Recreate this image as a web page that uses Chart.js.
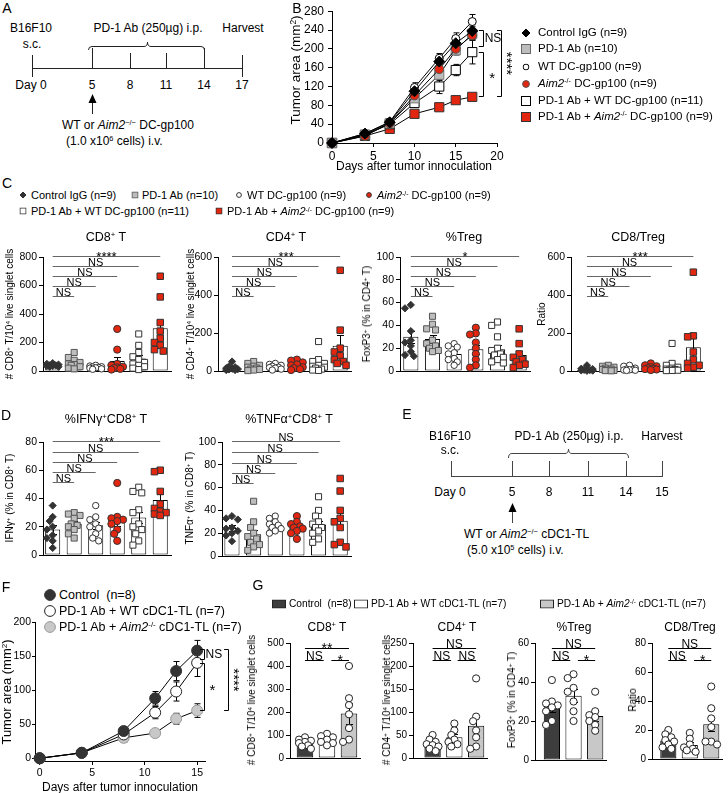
<!DOCTYPE html>
<html><head><meta charset="utf-8">
<script src="https://cdn.jsdelivr.net/npm/chart.js@4.4.1/dist/chart.umd.min.js"></script>
<style>
html,body{margin:0;padding:0;background:#fff}
body{position:relative;width:728px;height:793px;overflow:hidden;font-family:"Liberation Sans",Arial,Helvetica,sans-serif;color:#000}
.t{position:absolute;white-space:nowrap;line-height:1;z-index:2}
sup{font-size:62%;position:relative;top:-0.5em;vertical-align:baseline;line-height:0}
canvas{position:absolute;z-index:1}
svg.ov{position:absolute;left:0;top:0;z-index:0}
</style></head><body>
<svg class="ov" width="728" height="793">
 <g stroke="#222" fill="none" stroke-width="1">
  <line x1="32" y1="68.5" x2="243" y2="68.5"/>
  <line x1="32.5" y1="55" x2="32.5" y2="77"/>
  <line x1="92.5" y1="48" x2="92.5" y2="68"/>
  <line x1="130.5" y1="53" x2="130.5" y2="68"/>
  <line x1="166.5" y1="53" x2="166.5" y2="68"/>
  <line x1="204.5" y1="48" x2="204.5" y2="68"/>
  <line x1="242.5" y1="55" x2="242.5" y2="77"/>
  <path d="M88.5,50 Q88.5,46.5 92,46.5 L144,46.5 Q147.5,46.5 147.5,42 Q147.5,46.5 151,46.5 L201,46.5 Q204.5,46.5 204.5,50"/>
  <line x1="92.5" y1="114" x2="92.5" y2="101"/>
 </g>
 <polygon points="92.5,94 88.5,103 96.5,103" fill="#000"/>
 <g stroke="#444" fill="none" stroke-width="1">
  <line x1="451" y1="476.5" x2="663" y2="476.5"/>
  <line x1="451.5" y1="461" x2="451.5" y2="477"/>
  <line x1="512.5" y1="461" x2="512.5" y2="476"/>
  <line x1="549.5" y1="461" x2="549.5" y2="476"/>
  <line x1="588.5" y1="461" x2="588.5" y2="476"/>
  <line x1="626.5" y1="461" x2="626.5" y2="476"/>
  <line x1="662.5" y1="461" x2="662.5" y2="477"/>
  <path d="M508.5,458 Q508.5,453.5 512,453.5 L565,453.5 Q568.5,453.5 568.5,449 Q568.5,453.5 572,453.5 L625,453.5 Q628.5,453.5 628.5,458"/>
  <line x1="512.5" y1="523" x2="512.5" y2="510"/>
 </g>
 <polygon points="512.5,503 508.5,512 516.5,512" fill="#000"/>
</svg>
<script>
// ---------------- DATA ----------------
// Panel B : tumour growth
const daysB = [0, 4, 7, 10, 13, 15, 17];
const bCtrlIgG = [0, 20, 44, 110, 173, 212, 238];
const bCtrlIgGErr = [0, 2, 3, 8, 10, 12, 10];
const bPD1 = [0, 18, 42, 95, 145, 197, 232];
const bPD1Err = [0, 2, 3, 8, 12, 10, 12];
const bWT = [0, 20, 45, 118, 180, 222, 258];
const bWTErr = [0, 2, 3, 10, 10, 12, 15];
const bAim2 = [0, 15, 42, 101, 157, 200, 229];
const bAim2Err = [0, 2, 3, 8, 10, 10, 10];
const bPD1WT = [0, 17, 40, 85, 120, 155, 193];
const bPD1WTErr = [0, 2, 3, 8, 15, 12, 25];
const bPD1Aim2 = [0, 15, 30, 62, 76, 91, 98];
const bPD1Aim2Err = [0, 2, 2, 4, 4, 4, 5];
const groupsB = ['Control IgG (n=9)', 'PD-1 Ab (n=10)', 'WT DC-gp100 (n=9)', 'Aim2-/- DC-gp100 (n=9)', 'PD-1 Ab + WT DC-gp100 (n=11)', 'PD-1 Ab + Aim2-/- DC-gp100 (n=9)'];
const ticksB_x = [0, 5, 10, 15, 20];
const ticksB_y = [0, 40, 80, 120, 160, 200, 240, 280];

// Panel C : CD8+ T per 10^4 cells
const cd8Means = [40, 52, 25, 70, 87, 300];
const cd8Sem = [5, 12, 4, 30, 22, 60];
const cd8Pts = [[55, 50, 45, 40, 40, 35, 35, 30, 30], [130, 95, 75, 60, 50, 45, 40, 30, 20, 15], [40, 35, 30, 28, 25, 22, 20, 15, 12], [295, 150, 50, 40, 30, 25, 20, 15, 10], [260, 180, 130, 100, 80, 60, 50, 40, 30, 20, 10], [665, 520, 340, 280, 230, 200, 180, 150, 140]];
// CD4+ T
const cd4Means = [17, 20, 22, 30, 37, 133];
const cd4Sem = [5, 5, 4, 6, 13, 58];
const cd4Pts = [[50, 25, 20, 15, 12, 10, 8, 5, 5], [50, 40, 30, 25, 20, 15, 10, 8, 5, 2], [40, 35, 30, 25, 20, 18, 15, 10, 5], [60, 55, 45, 35, 30, 20, 15, 10, 5], [155, 60, 50, 40, 30, 25, 20, 15, 10, 5, 3], [530, 215, 120, 100, 80, 60, 50, 40, 30]];
// %Treg
const tregMeans = [30, 28, 15, 19, 19, 14];
const tregSem = [5.5, 3.5, 2.5, 4, 3.5, 3.5];
const tregPts = [[58, 55, 35, 27, 25, 22, 17, 14, 13], [48, 41, 37, 36, 27, 24, 22, 20, 18, 17], [24, 22, 21, 16, 15, 11, 10, 8, 5], [38, 33, 32, 25, 20, 15, 10, 5, 3], [43, 40, 30, 20, 18, 15, 14, 12, 10, 8, 7], [37, 24, 15, 12, 10, 8, 6, 5, 3]];
// CD8/Treg ratio
const ratioMeans = [8, 12, 12, 18, 24, 125];
const ratioSem = [3, 3, 3, 4, 12, 55];
const ratioPts = [[30, 12, 10, 8, 6, 5, 3, 2, 1], [30, 25, 20, 15, 10, 8, 5, 3, 2, 1], [30, 25, 15, 10, 8, 6, 5, 4, 3], [40, 30, 25, 20, 15, 12, 10, 8, 5], [145, 40, 30, 20, 15, 10, 8, 5, 4, 3, 2], [520, 185, 180, 100, 60, 40, 30, 20, 15]];

// Panel D
const ifnMeans = [18, 22, 21, 24, 26.5, 39];
const ifnSem = [3, 2, 2.5, 3.8, 4, 4];
const ifnPts = [[35, 27, 24, 20, 18, 14, 12, 10, 5], [30, 29, 28, 26, 22, 21, 20, 18, 15, 12], [35, 27, 25, 22, 20, 19, 15, 12, 10], [51, 27, 26, 25, 24, 22, 18, 15, 10], [48, 44, 45, 32, 30, 22, 20, 18, 15, 10, 7], [60, 59, 45, 36, 33, 31, 30, 29, 28]];
const tnfMeans = [24.5, 19, 27, 25, 27.6, 31];
const tnfSem = [2.3, 4, 1.6, 2, 3.5, 7];
const tnfPts = [[35, 33, 32, 25, 24, 22, 20, 18, 13], [48, 30, 25, 20, 17, 15, 12, 10, 8, 5], [35, 33, 30, 28, 27, 25, 24, 22, 20], [35, 30, 28, 26, 25, 24, 22, 20, 15], [52, 40, 35, 30, 28, 25, 25, 22, 20, 15, 12], [68, 57, 40, 33, 30, 25, 12, 10, 8]];

// Panel F
const daysF = [0, 4, 8, 11, 13, 15];
const fCtrl = [0, 8, 40, 88, 128, 158];
const fCtrlErr = [0, 1.5, 4, 10, 14, 15];
const fWT = [0, 8, 35, 67, 98, 140];
const fWTErr = [0, 1.5, 4, 9, 14, 20];
const fAim2 = [0, 8, 30, 37, 58, 70];
const fAim2Err = [0, 1.5, 6, 3, 8, 10];
const groupsF = ['Control  (n=8)', 'PD-1 Ab + WT cDC1-TL (n=7)', 'PD-1 Ab + Aim2-/- cDC1-TL (n=7)'];
const ticksF_x = [0, 5, 10, 15];
const ticksF_y = [0, 50, 100, 150, 200];

// Panel G
const gCd8Means = [65, 80, 194];
const gCd8Sem = [6, 7, 45];
const gCd8Pts = [[90, 80, 75, 70, 65, 55, 50, 40], [105, 95, 90, 80, 70, 65, 55], [400, 260, 230, 190, 130, 80, 70]];
const gCd4Means = [30, 45, 70];
const gCd4Sem = [4, 7, 20];
const gCd4Pts = [[50, 40, 35, 30, 28, 25, 20, 15], [75, 60, 50, 40, 35, 30, 25], [173, 90, 80, 60, 45, 25, 20]];
const gTregMeans = [27, 33, 22.6];
const gTregSem = [2.5, 3.5, 2.5];
const gTregPts = [[41, 30, 29, 28, 27, 25, 20, 18], [44, 42, 37, 35, 30, 25, 20], [35, 25, 23, 22, 20, 18, 15]];
const gRatioMeans = [12.8, 9.7, 24];
const gRatioSem = [1.6, 1.8, 5];
const gRatioPts = [[20, 17, 15, 13, 12, 10, 8, 7], [18, 14, 10, 8, 7, 6, 5], [50, 35, 28, 22, 12, 12, 10]];

// ---------------- RENDERING ----------------
const FONT = '"Liberation Sans", Arial, Helvetica, sans-serif';
Chart.defaults.font.family = FONT;
Chart.defaults.color = '#000';
Chart.defaults.animation = false;
Chart.defaults.plugins.legend.display = false;
Chart.defaults.plugins.tooltip.enabled = false;
const RED = '#e3260f';
const REG = new Map();

const annot = {
  id: 'annot',
  beforeDatasetsDraw(chart) {
    const e = REG.get(chart.canvas); if (!e || !e.lineErr) return;
    const {ctx} = chart, X = chart.scales.x, Y = chart.scales.y;
    ctx.save(); ctx.strokeStyle = '#000'; ctx.lineWidth = 1;
    e.lineErr.forEach(s => s.days.forEach((d, i) => {
      const er = s.err[i]; if (!er) return;
      const px = Math.round(X.getPixelForValue(d)) + 0.5;
      const p1 = Y.getPixelForValue(s.vals[i] + er), p2 = Y.getPixelForValue(s.vals[i] - er);
      ctx.beginPath(); ctx.moveTo(px, p1); ctx.lineTo(px, p2);
      ctx.moveTo(px - e.cap, p1); ctx.lineTo(px + e.cap, p1);
      ctx.moveTo(px - e.cap, p2); ctx.lineTo(px + e.cap, p2); ctx.stroke();
    }));
    ctx.restore();
  },
  afterDatasetDraw(chart, args) {
    const e = REG.get(chart.canvas); if (!e || !e.barErr || args.index !== 0) return;
    const {ctx} = chart, X = chart.scales.x, Y = chart.scales.y;
    ctx.save(); ctx.strokeStyle = '#000'; ctx.lineWidth = 1;
    e.barErr.means.forEach((m, i) => {
      const px = Math.round(X.getPixelForValue(i)) + 0.5;
      const p1 = Math.round(Y.getPixelForValue(m + e.barErr.sems[i])) + 0.5;
      const p2 = Math.round(Y.getPixelForValue(Math.max(0, m - e.barErr.sems[i]))) + 0.5;
      ctx.beginPath(); ctx.moveTo(px, p1); ctx.lineTo(px, p2);
      ctx.moveTo(px - e.cap, p1); ctx.lineTo(px + e.cap, p1);
      ctx.moveTo(px - e.cap, p2); ctx.lineTo(px + e.cap, p2); ctx.stroke();
    });
    ctx.restore();
  },
  afterDraw(chart) {
    const e = REG.get(chart.canvas); if (!e) return;
    const {ctx} = chart, X = chart.scales.x, Y = chart.scales.y;
    ctx.save();
    if (e.sig) e.sig.forEach(([a, b, v, txt]) => {
      const x1 = X.getPixelForValue(a), x2 = X.getPixelForValue(b), yy = Math.round(Y.getPixelForValue(v)) + 0.5;
      ctx.strokeStyle = e.sigColor; ctx.lineWidth = 1;
      ctx.beginPath(); ctx.moveTo(x1, yy); ctx.lineTo(x2, yy); ctx.stroke();
      const star = txt.includes('*');
      ctx.font = (star ? e.starSize : e.nsSize) + 'px ' + FONT;
      ctx.fillStyle = '#000'; ctx.textAlign = 'center'; ctx.textBaseline = 'alphabetic';
      ctx.fillText(txt, (x1 + x2) / 2, yy + (star ? e.starSize * 0.33 : -0.5));
    });
    if (e.br) e.br.forEach(o => {
      const x = Math.round(X.getPixelForValue(o.x)) + 0.5, xa = X.getPixelForValue(o.arm);
      const y1 = Math.round(Y.getPixelForValue(o.y1)) + 0.5, y2 = Math.round(Y.getPixelForValue(o.y2)) + 0.5;
      ctx.strokeStyle = '#000'; ctx.lineWidth = 1;
      ctx.beginPath(); ctx.moveTo(xa, y1); ctx.lineTo(x, y1); ctx.lineTo(x, y2); ctx.lineTo(xa, y2); ctx.stroke();
      const star = o.text.includes('*');
      ctx.fillStyle = '#000';
      ctx.font = (star ? 15 : 12) + 'px ' + FONT;
      const tx = X.getPixelForValue(o.tx), mid = (y1 + y2) / 2;
      if (o.rot) {
        ctx.translate(tx, mid); ctx.rotate(Math.PI / 2);
        ctx.textAlign = 'center'; ctx.textBaseline = 'middle';
        ctx.fillText(o.text, 0, 0);
        ctx.setTransform(chart.currentDevicePixelRatio, 0, 0, chart.currentDevicePixelRatio, 0, 0);
      } else {
        ctx.textAlign = o.ta || 'center'; ctx.textBaseline = 'middle';
        ctx.fillText(o.text, tx, mid + (star ? 4 : 0));
      }
    });
    ctx.restore();
  }
};
Chart.register(annot);

function canv(a, p) {
  const c = document.createElement('canvas');
  const w = a.r - a.l + p.l + p.r, h = a.b - a.t + p.t + p.b;
  c.width = w; c.height = h;
  c.style.left = (a.l - p.l) + 'px'; c.style.top = (a.t - p.t) + 'px';
  c.style.width = w + 'px'; c.style.height = h + 'px';
  document.body.appendChild(c);
  return c;
}
function yAxis(min, max, fs, list, pad, tl) {
  return {
    type: 'linear', min, max,
    ticks: {font: {size: fs}, color: '#000', padding: pad || 3},
    grid: {display: true, drawOnChartArea: false, drawTicks: true, tickLength: tl || 4, color: '#000', lineWidth: 1},
    border: {display: true, color: '#000', width: 1},
    afterBuildTicks: s => { s.ticks = list.map(v => ({value: v})); }
  };
}
function range(max, step) { const r = []; for (let v = 0; v <= max + 1e-9; v += step) r.push(+v.toFixed(6)); return r; }

// deterministic beeswarm layout: spreads coincident points sideways within the bar
function swarm(vals, pyu, pxu, r) {
  const order = vals.map((v, i) => i).sort((a, b) => vals[b] - vals[a]);
  const cand = [0, -0.14, 0.14, -0.27, 0.27];
  const placed = [], offs = new Array(vals.length).fill(0);
  order.forEach(i => {
    const yp = vals[i] * pyu;
    let best = 0, bestD = -1;
    for (const c of cand) {
      const xp = c * pxu;
      let dmin = Infinity;
      placed.forEach(p => { dmin = Math.min(dmin, Math.hypot(p.x - xp, p.y - yp)); });
      if (dmin >= 2 * r) { best = c; break; }
      if (dmin > bestD) { bestD = dmin; best = c; }
    }
    offs[i] = best; placed.push({x: best * pxu, y: yp});
  });
  return offs;
}

const styleC = [
  {pointStyle: 'rectRot', pointRadius: 3.6, backgroundColor: '#333', borderColor: '#333'},
  {pointStyle: 'rect', pointRadius: 4.3, backgroundColor: '#bdbdbd', borderColor: '#555'},
  {pointStyle: 'circle', pointRadius: 3.2, backgroundColor: '#fff', borderColor: '#333'},
  {pointStyle: 'circle', pointRadius: 3.6, backgroundColor: RED, borderColor: '#333'},
  {pointStyle: 'rect', pointRadius: 4.3, backgroundColor: '#fff', borderColor: '#333'},
  {pointStyle: 'rect', pointRadius: 4.6, backgroundColor: RED, borderColor: '#333'}
];
const styleG = [0, 1, 2].map(() => ({pointStyle: 'circle', pointRadius: 3.6, backgroundColor: '#fff', borderColor: '#222'}));

function barPanel(o) {
  const pad = o.pad || {l: 40, t: 26, r: 6, b: 10};
  const c = canv(o.area, pad);
  REG.set(c, {barErr: {means: o.means, sems: o.sems}, cap: o.cap || 3.5, sig: o.sig, sigColor: o.sigColor || '#666', nsSize: o.nsSize || 11, starSize: o.starSize || 13});
  const pyu = (o.area.b - o.area.t) / o.ymax, pxu = (o.area.r - o.area.l) / (o.xmax - o.xmin);
  const ds = [{
    type: 'bar', data: o.means.map((m, i) => ({x: i, y: m})),
    backgroundColor: o.barColors, borderColor: '#000', borderWidth: 1, borderSkipped: false,
    barPercentage: o.barFrac, categoryPercentage: 1, order: 10
  }];
  o.pts.forEach((arr, g) => {
    const offs = swarm(arr, pyu, pxu, o.styles[g].pointRadius * 0.7);
    ds.push(Object.assign({type: 'scatter', data: arr.map((v, k) => ({x: g + offs[k], y: v})), borderWidth: 1, order: 1, clip: false}, o.styles[g]));
  });
  new Chart(c, {
    type: 'bar', data: {datasets: ds},
    options: {
      responsive: false, maintainAspectRatio: false,
      layout: {padding: {top: pad.t, right: pad.r, left: 0, bottom: 0}},
      scales: {
        x: {type: 'linear', min: o.xmin, max: o.xmax, offset: false, ticks: {display: false}, grid: {display: false, offset: false}, border: {display: true, color: '#000', width: 1}, afterFit: s => { s.height = pad.b; }},
        y: Object.assign(yAxis(0, o.ymax, o.fs || 10.5, range(o.ymax, o.step), 2), {afterFit: s => { s.width = pad.l; }})
      }
    }
  });
}

function linePanel(o) {
  const pad = o.pad;
  const c = canv(o.area, pad);
  REG.set(c, {lineErr: o.series.map(s => ({days: o.days, vals: s.vals, err: s.err})), cap: 3, br: o.br});
  const ds = o.series.map(s => Object.assign({
    type: 'line', data: o.days.map((d, i) => ({x: d, y: s.vals[i]})),
    borderColor: '#000', borderWidth: 1, fill: false, tension: 0, clip: false, pointBorderWidth: 1
  }, s.style));
  new Chart(c, {
    type: 'line', data: {datasets: ds},
    options: {
      responsive: false, maintainAspectRatio: false,
      layout: {padding: {top: pad.t, right: pad.r, left: 0, bottom: 0}},
      scales: {
        x: Object.assign(yAxis(o.xmin, o.xmax, o.fs, o.xticks, 2), {afterFit: s => { s.height = pad.b; }}),
        y: Object.assign(yAxis(o.ymin, o.ymax, o.fs, o.yticks, o.typad || 3, o.ytl), {afterFit: s => { s.width = pad.l; }})
      }
    }
  });
}

// Panel B
linePanel({
  area: {l: 332, t: 8, r: 497, b: 143}, pad: {l: 40, t: 8, r: 30, b: 18},
  days: daysB, xmin: 0, xmax: 20, ymin: 0, ymax: 280, xticks: ticksB_x, yticks: ticksB_y, fs: 12, typad: 4,
  series: [
    {vals: bCtrlIgG, err: bCtrlIgGErr, style: {pointStyle: 'rectRot', pointRadius: 5.5, pointBackgroundColor: '#000', pointBorderColor: '#000'}},
    {vals: bWT, err: bWTErr, style: {pointStyle: 'circle', pointRadius: 4, pointBackgroundColor: '#fff', pointBorderColor: '#000'}},
    {vals: bAim2, err: bAim2Err, style: {pointStyle: 'circle', pointRadius: 4.5, pointBackgroundColor: RED, pointBorderColor: '#555'}},
    {vals: bPD1, err: bPD1Err, style: {pointStyle: 'rect', pointRadius: 6.5, pointBackgroundColor: '#bdbdbd', pointBorderColor: '#777'}},
    {vals: bPD1WT, err: bPD1WTErr, style: {pointStyle: 'rect', pointRadius: 6.5, pointBackgroundColor: '#fff', pointBorderColor: '#000'}},
    {vals: bPD1Aim2, err: bPD1Aim2Err, style: {pointStyle: 'rect', pointRadius: 6.5, pointBackgroundColor: RED, pointBorderColor: '#333'}}
  ],
  br: [
    {x: 18.3, arm: 17.8, y1: 240, y2: 207, text: 'NS', tx: 18.5, ta: 'left'},
    {x: 18.3, arm: 17.8, y1: 193, y2: 100, text: '*', tx: 19.4},
    {x: 20.5, arm: 20.0, y1: 240, y2: 100, text: '****', tx: 21.1, rot: true}
  ]
});

// Panel C
const wb = ['#fff', '#fff', '#fff', '#fff', '#fff', '#fff'];
barPanel({area: {l: 43, t: 257, r: 171, b: 371}, xmin: -0.45, xmax: 5.5, ymax: 800, step: 200, means: cd8Means, sems: cd8Sem, pts: cd8Pts, styles: styleC, barColors: wb, barFrac: 0.7,
  sig: [[0, 5, 807, '****'], [0, 4, 737, 'NS'], [0, 3, 667, 'NS'], [0, 2, 596, 'NS'], [0, 1, 526, 'NS']]});
barPanel({area: {l: 218, t: 257, r: 351, b: 371}, xmin: -0.65, xmax: 5.5, ymax: 600, step: 200, means: cd4Means, sems: cd4Sem, pts: cd4Pts, styles: styleC, barColors: wb, barFrac: 0.7,
  sig: [[0, 5, 605, '***'], [0, 4, 553, 'NS'], [0, 3, 500, 'NS'], [0, 2, 447, 'NS'], [0, 1, 395, 'NS']]});
barPanel({area: {l: 400, t: 257, r: 530, b: 371}, xmin: -0.5, xmax: 5.5, ymax: 100, step: 20, means: tregMeans, sems: tregSem, pts: tregPts, styles: styleC, barColors: wb, barFrac: 0.7,
  sig: [[0, 5, 101, '*'], [0, 4, 92, 'NS'], [0, 3, 83, 'NS'], [0, 2, 75, 'NS'], [0, 1, 66, 'NS']]});
barPanel({area: {l: 571, t: 257, r: 704, b: 371}, xmin: -0.75, xmax: 5.5, ymax: 600, step: 200, means: ratioMeans, sems: ratioSem, pts: ratioPts, styles: styleC, barColors: wb, barFrac: 0.7,
  sig: [[0, 5, 605, '***'], [0, 4, 553, 'NS'], [0, 3, 500, 'NS'], [0, 2, 447, 'NS'], [0, 1, 395, 'NS']]});

// Panel D
barPanel({area: {l: 43, t: 442, r: 171, b: 555}, xmin: -0.45, xmax: 5.5, ymax: 80, step: 20, means: ifnMeans, sems: ifnSem, pts: ifnPts, styles: styleC, barColors: wb, barFrac: 0.7,
  sig: [[0, 5, 80.5, '***'], [0, 4, 73, 'NS'], [0, 3, 66, 'NS'], [0, 2, 59, 'NS'], [0, 1, 52, 'NS']]});
barPanel({area: {l: 222, t: 442, r: 351, b: 556}, xmin: -0.46, xmax: 5.5, ymax: 100, step: 20, means: tnfMeans, sems: tnfSem, pts: tnfPts, styles: styleC, barColors: wb, barFrac: 0.7,
  sig: [[0, 5, 100.5, 'NS'], [0, 4, 91, 'NS'], [0, 3, 82, 'NS'], [0, 2, 73, 'NS'], [0, 1, 64, 'NS']]});

// Panel F
linePanel({
  area: {l: 35, t: 622, r: 205, b: 761}, pad: {l: 35, t: 10, r: 40, b: 20},
  days: daysF, xmin: -0.45, xmax: 15.75, ymin: -4, ymax: 200, xticks: ticksF_x, yticks: ticksF_y, fs: 10.5, typad: 1, ytl: 3,
  series: [
    {vals: fCtrl, err: fCtrlErr, style: {pointStyle: 'circle', pointRadius: 5.5, pointBackgroundColor: '#333', pointBorderColor: '#333'}},
    {vals: fWT, err: fWTErr, style: {pointStyle: 'circle', pointRadius: 5.5, pointBackgroundColor: '#fff', pointBorderColor: '#222'}},
    {vals: fAim2, err: fAim2Err, style: {pointStyle: 'circle', pointRadius: 5.5, pointBackgroundColor: '#c8c8c8', pointBorderColor: '#999'}}
  ],
  br: [
    {x: 15.66, arm: 15.28, y1: 160, y2: 146, text: 'NS', tx: 15.8, ta: 'left'},
    {x: 15.66, arm: 15.28, y1: 140, y2: 71, text: '*', tx: 16.45},
    {x: 17.95, arm: 17.57, y1: 160, y2: 71, text: '****', tx: 18.45, rot: true}
  ]
});

// Panel G
const gBars = ['#3d3d3d', '#ffffff', '#c8c8c8'];
const gPad = {l: 36, t: 26, r: 6, b: 10};
barPanel({area: {l: 290, t: 643, r: 360, b: 758}, pad: gPad, xmin: -0.68, xmax: 2.5, ymax: 500, step: 100, fs: 10, means: gCd8Means, sems: gCd8Sem, pts: gCd8Pts, styles: styleG, barColors: gBars, barFrac: 0.75, sigColor: '#000', nsSize: 12, starSize: 14,
  sig: [[0, 2, 478, '**'], [0, 0.85, 426, 'NS'], [1.2, 2, 426, '*']]});
barPanel({area: {l: 413, t: 643, r: 487, b: 758}, pad: gPad, xmin: -0.9, xmax: 2.5, ymax: 250, step: 50, fs: 10, means: gCd4Means, sems: gCd4Sem, pts: gCd4Pts, styles: styleG, barColors: gBars, barFrac: 0.75, sigColor: '#000', nsSize: 12, starSize: 14,
  sig: [[0, 2, 239, 'NS'], [0, 0.85, 213, 'NS'], [1.15, 2, 213, 'NS']]});
barPanel({area: {l: 535, t: 643, r: 606, b: 760}, pad: gPad, xmin: -0.78, xmax: 2.5, ymax: 60, step: 20, fs: 10, means: gTregMeans, sems: gTregSem, pts: gTregPts, styles: styleG, barColors: gBars, barFrac: 0.75, sigColor: '#000', nsSize: 12, starSize: 14,
  sig: [[0, 2, 57.4, 'NS'], [0, 0.85, 51.3, 'NS'], [1.2, 2, 51.3, '*']]});
barPanel({area: {l: 652, t: 643, r: 722, b: 759}, pad: gPad, xmin: -0.76, xmax: 2.5, ymax: 80, step: 20, fs: 10, means: gRatioMeans, sems: gRatioSem, pts: gRatioPts, styles: styleG, barColors: gBars, barFrac: 0.75, sigColor: '#000', nsSize: 12, starSize: 14,
  sig: [[0, 2, 76.5, 'NS'], [0, 0.85, 68.3, 'NS'], [1.2, 2, 68.3, '*']]});

// ---------------- TEXT ----------------
function T(x, y, html, o) {
  o = o || {};
  const d = document.createElement('div');
  d.className = 't'; d.innerHTML = html;
  d.style.fontSize = (o.s || 12) + 'px';
  d.style.left = x + 'px'; d.style.top = y + 'px';
  let tr = o.a === 'l' ? 'translate(0,-50%)' : 'translate(-50%,-50%)';
  if (o.rot) tr += ' rotate(' + o.rot + 'deg)';
  if (o.sx) tr += ' scaleX(' + o.sx + ')';
  if (o.a === 'l') d.style.transformOrigin = '0 50%';
  d.style.transform = tr;
  document.body.appendChild(d);
}
function mk(shape, fill, stroke, s, h2) {
  const h = s / 2, hh = h2 || s;
  let inner;
  if (shape === 'd') inner = `<polygon points="${h},0.5 ${s - 0.5},${h} ${h},${s - 0.5} 0.5,${h}" fill="${fill}" stroke="${stroke}"/>`;
  else if (shape === 's') inner = `<rect x="0.5" y="0.5" width="${s - 1}" height="${hh - 1}" fill="${fill}" stroke="${stroke}"/>`;
  else inner = `<circle cx="${h}" cy="${h}" r="${h - 0.6}" fill="${fill}" stroke="${stroke}"/>`;
  return `<svg width="${s}" height="${hh}" style="display:block">${inner}</svg>`;
}
const AIM = '<i>Aim2</i><sup>-/-</sup>';

// A
T(7, 8, 'A', {s: 14});
T(31, 28, 'B16F10'); T(32, 44, 's.c.');
T(148, 28, 'PD-1 Ab (250µg) i.p.'); T(243, 28, 'Harvest');
T(31, 85, 'Day 0'); T(92, 85, '5'); T(130, 85, '8'); T(166, 85, '11'); T(204, 85, '14'); T(242, 85, '17');
T(62, 125, 'WT or <i>Aim2</i><sup>−/−</sup> DC-gp100', {a: 'l'});
T(66, 141, '(1.0 x10<sup>6</sup> cells) i.v.', {a: 'l'});

// B
T(297, 8, 'B', {s: 14});
T(296, 70, 'Tumor area (mm<sup>2</sup>)', {s: 13.5, rot: -90});
T(414, 166, 'Days after tumor innoculation', {s: 12});
const legB = [['d', '#000', '#000', 9], ['s', '#bdbdbd', '#666', 10], ['c', '#fff', '#000', 7], ['c', RED, '#555', 8], ['s', '#fff', '#000', 10], ['s', RED, '#333', 10]];
const legBy = [33, 49, 67, 84, 101, 117];
const legBtxt = ['Control IgG (n=9)', 'PD-1 Ab (n=10)', 'WT DC-gp100 (n=9)', AIM + ' DC-gp100 (n=9)', 'PD-1 Ab + WT DC-gp100 (n=11)', 'PD-1 Ab + ' + AIM + ' DC-gp100 (n=9)'];
legB.forEach((m, i) => { T(526, legBy[i], mk(m[0], m[1], m[2], m[3])); T(538, legBy[i], legBtxt[i], {a: 'l', s: 11.5}); });

// C
T(7, 183, 'C', {s: 14});
const legC = [
  [23, 195, 'd', '#333', '#333', 7, 31, 'Control IgG (n=9)'],
  [135, 195, 's', '#bdbdbd', '#555', 7, 142, 'PD-1 Ab (n=10)'],
  [239, 195, 'c', '#fff', '#333', 6, 247, 'WT DC-gp100 (n=9)'],
  [369, 195, 'c', RED, '#333', 6, 377, AIM + ' DC-gp100 (n=9)'],
  [23, 211, 's', '#fff', '#333', 7, 31, 'PD-1 Ab + WT DC-gp100 (n=11)'],
  [219, 211, 's', RED, '#333', 7, 227, 'PD-1 Ab + ' + AIM + ' DC-gp100 (n=9)']
];
legC.forEach(r => { T(r[0], r[1], mk(r[2], r[3], r[4], r[5])); T(r[6], r[1], r[7], {a: 'l', s: 11}); });
T(106, 237, 'CD8<sup>+</sup> T', {s: 12.5});
T(286, 237, 'CD4<sup>+</sup> T', {s: 12.5});
T(464, 237, '%Treg', {s: 12.5});
T(638, 237, 'CD8/Treg', {s: 12.5});
T(10, 314, '# CD8<sup>+</sup> T/10<sup>4</sup> live singlet cells', {s: 10, rot: -90});
T(191, 314, '# CD4<sup>+</sup> T/10<sup>4</sup> live singlet cells', {s: 10, rot: -90});
T(367, 314, 'FoxP3<sup>+</sup> (% in CD4<sup>+</sup> T)', {s: 10, rot: -90});
T(542, 314, 'Ratio', {s: 10, rot: -90});

// D
T(6, 415, 'D', {s: 14});
T(106, 419, '%IFNγ<sup>+</sup>CD8<sup>+</sup> T', {s: 12.5});
T(289, 419, '%TNFα<sup>+</sup>CD8<sup>+</sup> T', {s: 12.5});
T(10, 498, 'IFNγ<sup>+</sup> (% in CD8<sup>+</sup> T)', {s: 10, rot: -90});
T(190, 498, 'TNFα<sup>+</sup> (% in CD8<sup>+</sup> T)', {s: 10, rot: -90});

// E
T(407, 414, 'E', {s: 14});
T(450, 436, 'B16F10'); T(450, 450, 's.c.');
T(569, 436, 'PD-1 Ab (250µg) i.p.'); T(662, 436, 'Harvest');
T(450, 492, 'Day 0'); T(512, 492, '5'); T(549, 492, '8'); T(588, 492, '11'); T(626, 492, '14'); T(662, 492, '15');
T(464, 534, 'WT or <i>Aim2</i><sup>−/−</sup> cDC1-TL', {a: 'l'});
T(467, 550, '(5.0 x10<sup>5</sup> cells) i.v.', {a: 'l'});

// F
T(6, 587, 'F', {s: 14});
const legF = [['#333', '#333'], ['#fff', '#222'], ['#c8c8c8', '#999']];
const legFy = [595, 611, 627];
const legFtxt = ['Control&nbsp; (n=8)', 'PD-1 Ab + WT cDC1-TL (n=7)', 'PD-1 Ab + ' + AIM + ' cDC1-TL (n=7)'];
legF.forEach((m, i) => { T(50, legFy[i], mk('c', m[0], m[1], 12)); T(59, legFy[i], legFtxt[i], {a: 'l', s: 12.5}); });
T(6, 692, 'Tumor area (mm<sup>2</sup>)', {s: 13, rot: -90});
T(120, 787, 'Days after tumor innoculation', {s: 12});

// G
T(258, 585, 'G', {s: 14});
T(279, 604, mk('s', '#3d3d3d', '#222', 14, 9)); T(289, 604, 'Control&nbsp; (n=8)', {a: 'l', s: 10.2});
T(361, 604, mk('s', '#fff', '#222', 14, 9)); T(371, 604, 'PD-1 Ab + WT cDC1-TL (n=7)', {a: 'l', s: 10.2});
T(547, 604, mk('s', '#c8c8c8', '#222', 14, 9)); T(557, 604, 'PD-1 Ab + ' + AIM + ' cDC1-TL (n=7)', {a: 'l', s: 10.2});
T(327, 627, 'CD8<sup>+</sup> T', {s: 12});
T(457, 627, 'CD4<sup>+</sup> T', {s: 12});
T(574, 627, '%Treg', {s: 12});
T(690, 627, 'CD8/Treg', {s: 12});
T(252, 700, '# CD8<sup>+</sup> T/10<sup>4</sup> live singlet cells', {s: 10, rot: -90});
T(387, 700, '# CD4<sup>+</sup> T/10<sup>4</sup> live singlet cells', {s: 10, rot: -90});
T(512, 700, 'FoxP3<sup>+</sup> (% in CD4<sup>+</sup> T)', {s: 10, rot: -90});
T(633, 700, 'Ratio', {s: 10, rot: -90});
</script>
</body></html>
